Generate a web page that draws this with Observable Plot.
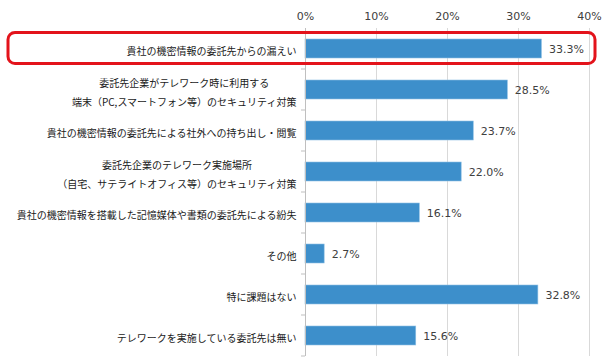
<!DOCTYPE html>
<html><head><meta charset="utf-8">
<script src="https://cdn.jsdelivr.net/npm/d3@7"></script>
<script src="https://cdn.jsdelivr.net/npm/@observablehq/plot@0.6"></script>
<style>
body{margin:0;background:#fff;}
#chart svg{display:block;}
</style>
</head><body><div id="chart"></div>
<script>
const categories = [
  "貴社の機密情報の委託先からの漏えい",
  "委託先企業がテレワーク時に利用する\n端末（PC,スマートフォン等）のセキュリティ対策",
  "貴社の機密情報の委託先による社外への持ち出し・閲覧",
  "委託先企業のテレワーク実施場所\n（自宅、サテライトオフィス等）のセキュリティ対策",
  "貴社の機密情報を搭載した記憶媒体や書類の委託先による紛失",
  "その他",
  "特に課題はない",
  "テレワークを実施している委託先は無い"
];
const values = [33.3, 28.5, 23.7, 22.0, 16.1, 2.7, 32.8, 15.6];
const xTicks = [0, 10, 20, 30, 40];
const highlighted = categories[0];

const data = categories.map((c, i) => ({label: c, value: values[i]}));
const numFont = "DejaVu Sans, Verdana, sans-serif";
const jpFont = "'Noto Sans CJK JP', sans-serif";

const chart = Plot.plot({
  width: 610,
  height: 358,
  marginLeft: 305,
  marginRight: 21,
  marginTop: 28,
  marginBottom: 2,
  style: {fontFamily: numFont, fontSize: "11px", color: "#404040", background: "#fff"},
  x: {domain: [0, 40], axis: null},
  y: {domain: categories, padding: 0, axis: null},
  marks: [
    Plot.gridX(xTicks.slice(1), {stroke: "#d9d9d9", strokeOpacity: 1}),
    Plot.axisX(xTicks, {anchor: "top", label: null, tickSize: 0, tickPadding: 9, tickFormat: d => d + "%", fontSize: 11, fill: "#404040", fontFamily: numFont}),
    Plot.axisY({anchor: "left", label: null, tickSize: 0, tickPadding: 9, fontSize: 10, lineHeight: 1.9, fill: "#1a1a1a", fontFamily: jpFont, textOverflow: null, lineWidth: Infinity}),
    Plot.barX(data, {x: "value", y: "label", fill: "#3d8fcb", stroke: "#8fc0e4", strokeWidth: 0.6, insetTop: 11, insetBottom: 11}),
    Plot.ruleX([0], {stroke: "#bfbfbf"}),
    Plot.text(data, {x: "value", y: "label", text: d => d.value.toFixed(1) + "%", textAnchor: "start", dx: 7, fontSize: 11, fill: "#404040", fontFamily: numFont})
  ]
});
document.getElementById("chart").appendChild(chart);

// center multi-line y labels relative to each other (right-aligned block)
d3.select(chart).selectAll('g[aria-label="y-axis tick label"] text').each(function() {
  const tspans = this.querySelectorAll("tspan");
  if (tspans.length > 1) {
    let w = 0;
    tspans.forEach(t => { w = Math.max(w, t.getComputedTextLength()); });
    this.setAttribute("text-anchor", "middle");
    tspans.forEach(t => t.setAttribute("x", -w / 2));
  }
});

// band boundary ticks and highlight frame from the y scale
const y = chart.scale("y");
const step = (y.range[1] - y.range[0]) / categories.length;
const x = chart.scale("x");
const x0 = x.apply(0);
const svg = d3.select(chart);
const g = svg.append("g");
categories.forEach((c, i) => {
  const yy = y.apply(c) + step;
  g.append("line").attr("x1", x0 - 4).attr("x2", x0).attr("y1", yy).attr("y2", yy).attr("stroke", "#bfbfbf");
});
const hy = y.apply(highlighted) + step / 2;
svg.append("rect")
  .attr("x", 8).attr("y", hy - 16).attr("width", 610 - 8 - 15).attr("height", 31)
  .attr("rx", 7).attr("fill", "none").attr("stroke", "#e3131b").attr("stroke-width", 3);
</script>
</body></html>
